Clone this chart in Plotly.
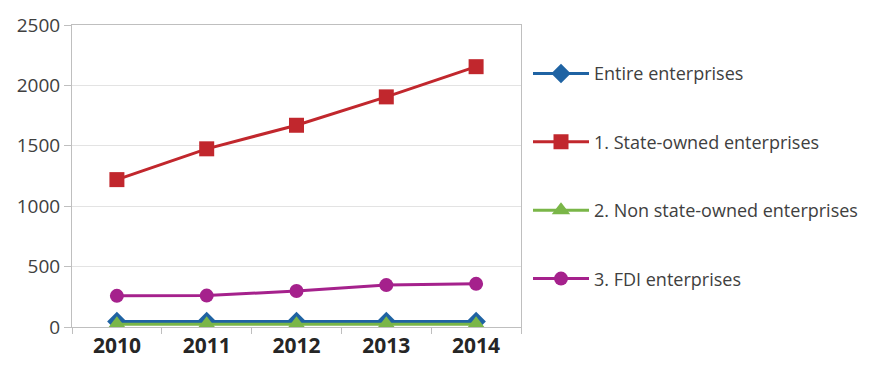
import plotly.graph_objects as go

years = ["2010", "2011", "2012", "2013", "2014"]
entire = [45, 45, 45, 45, 45]
state_owned = [1220, 1475, 1670, 1905, 2155]
non_state = [22, 22, 22, 22, 22]
fdi = [258, 260, 298, 347, 357]

series = [
    ("Entire enterprises", entire, "#1F63A3", "diamond", 15),
    ("1. State-owned enterprises", state_owned, "#C1272D", "square", 15),
    ("2. Non state-owned enterprises", non_state, "#7AB648", "triangle-up", 16),
    ("3. FDI enterprises", fdi, "#A5218C", "circle", 14),
]

fig = go.Figure()
for i, (name, vals, color, sym, size) in enumerate(series):
    fig.add_trace(go.Scatter(
        x=years, y=vals, name=name, mode="lines+markers",
        line=dict(color=color, width=3),
        marker=dict(symbol=sym, size=size, color=color),
        legendgroup=f"g{i}",
    ))

fig.update_layout(
    width=878, height=371,
    margin=dict(l=72, r=357, t=17, b=44),
    paper_bgcolor="white", plot_bgcolor="white",
    font=dict(family="Open Sans, Noto Sans, sans-serif", color="#404040"),
    legend=dict(
        x=1.0156, xanchor="left", y=0.90, yanchor="top",
        font=dict(size=18, color="#404040"),
        traceorder="grouped", tracegroupgap=42,
        itemwidth=56,
        bgcolor="rgba(0,0,0,0)",
    ),
)
fig.update_xaxes(
    type="category", range=[-0.5, 4.5],
    showline=True, linecolor="#BFBFBF", linewidth=1, mirror=True,
    ticks="outside", tickson="boundaries", ticklen=6, tickcolor="#BFBFBF",
    showgrid=False,
    tickfont=dict(size=21, color="#262626", family="Open Sans, sans-serif", weight="bold"),
)
fig.update_yaxes(
    range=[0, 2500], dtick=500,
    showline=True, linecolor="#BFBFBF", linewidth=1, mirror=True,
    ticks="outside", ticklen=7, tickcolor="#BFBFBF",
    gridcolor="#E3E3E3", gridwidth=1, zeroline=False,
    tickfont=dict(size=19, color="#404040"),
)

fig.write_html("out.html")
